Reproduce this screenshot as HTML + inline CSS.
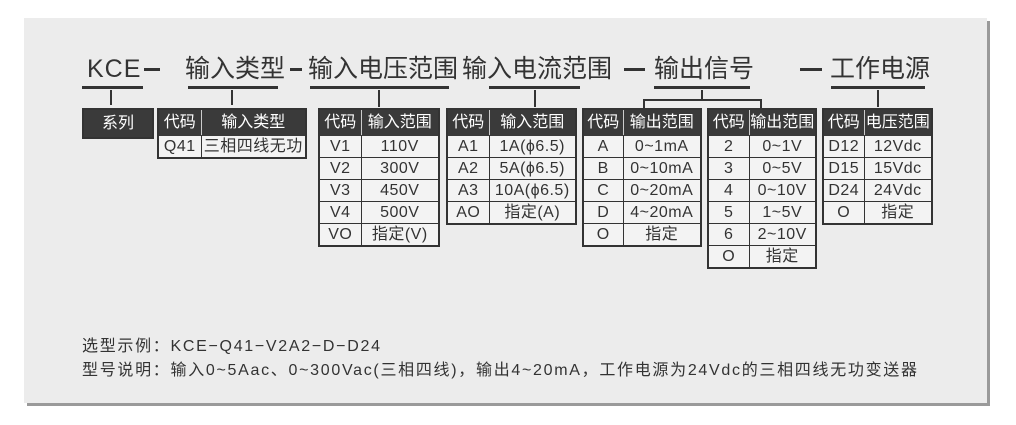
<!DOCTYPE html>
<html><head><meta charset="utf-8"><style>
body{margin:0;width:1016px;height:425px;background:#fff;position:relative;overflow:hidden;font-family:"Liberation Sans","Noto Sans CJK SC",sans-serif;color:#333}
.card{position:absolute;left:24px;top:18px;width:963px;height:385px;background:#ececec;box-shadow:3px 3px 0 #9a9a9a}
.a{position:absolute}
.h{position:absolute;font-size:25px;line-height:28px;top:55px;color:#333;white-space:nowrap}
.ul{position:absolute;height:3px;background:#333;top:86px}
.v{position:absolute;width:2px;background:#333}
.d{position:absolute;height:3px;background:#333;top:68px}
table{position:absolute;border-collapse:collapse;border:2px solid #333;background:#f3f3f3;font-size:16px;table-layout:fixed}
td{border:1.5px solid #333;padding:0;text-align:center;height:21px;line-height:21px;white-space:nowrap;overflow:hidden;letter-spacing:0.5px}
tr.hd td{background:#3a3a3a;color:#fff;height:25px;border-color:#3a3a3a;border-right:1.5px solid #ccc;letter-spacing:0}
tr.hd td:last-child{border-right-color:#3a3a3a}
.bt{position:absolute;left:82px;font-size:16px;letter-spacing:1.7px;white-space:nowrap}
</style></head><body>
<div class="card"></div>
<div class="h" style="left:87px;letter-spacing:1px">KCE</div>
<div class="d" style="left:144px;width:16px"></div>
<div class="h" style="left:185px">输入类型</div>
<div class="d" style="left:290px;width:12px"></div>
<div class="h" style="left:308px">输入电压范围</div>
<div class="h" style="left:462px">输入电流范围</div>
<div class="d" style="left:624px;width:21px"></div>
<div class="h" style="left:654px">输出信号</div>
<div class="d" style="left:800px;width:22px"></div>
<div class="h" style="left:830px">工作电源</div>
<div class="ul" style="left:82px;width:61px"></div>
<div class="ul" style="left:188px;width:90px"></div>
<div class="ul" style="left:310px;width:139px"></div>
<div class="ul" style="left:489px;width:91px"></div>
<div class="ul" style="left:654px;width:96px"></div>
<div class="ul" style="left:831px;width:94px"></div>
<div class="v" style="left:110px;top:90px;height:15px"></div>
<div class="v" style="left:231px;top:90px;height:15px"></div>
<div class="v" style="left:378px;top:90px;height:17px"></div>
<div class="v" style="left:534px;top:90px;height:17px"></div>
<div class="v" style="left:701px;top:90px;height:10px"></div>
<div class="a" style="left:643px;top:99px;width:119px;height:2px;background:#333"></div>
<div class="v" style="left:643px;top:99px;height:9px"></div>
<div class="v" style="left:760px;top:99px;height:9px"></div>
<div class="v" style="left:877px;top:90px;height:17px"></div>
<div class="a" style="left:82px;top:108px;width:68px;height:27px;background:#3a3a3a;border:2px solid #333;color:#fff;font-size:16px;line-height:27px;text-align:center">系列</div>
<table style="left:157px;top:108px;width:150px"><col style="width:43px"><col>
<tr class="hd"><td>代码</td><td>输入类型</td></tr>
<tr><td>Q41</td><td>三相四线无功</td></tr></table>
<table style="left:318px;top:108px;width:122px"><col style="width:42px"><col>
<tr class="hd"><td>代码</td><td>输入范围</td></tr>
<tr><td>V1</td><td>110V</td></tr><tr><td>V2</td><td>300V</td></tr><tr><td>V3</td><td>450V</td></tr><tr><td>V4</td><td>500V</td></tr><tr><td>VO</td><td>指定(V)</td></tr></table>
<table style="left:446px;top:108px;width:131px"><col style="width:42px"><col>
<tr class="hd"><td>代码</td><td>输入范围</td></tr>
<tr><td>A1</td><td>1A(ϕ6.5)</td></tr><tr><td>A2</td><td>5A(ϕ6.5)</td></tr><tr><td>A3</td><td>10A(ϕ6.5)</td></tr><tr><td>AO</td><td>指定(A)</td></tr></table>
<table style="left:582px;top:108px;width:120px"><col style="width:40px"><col>
<tr class="hd"><td>代码</td><td>输出范围</td></tr>
<tr><td>A</td><td>0~1mA</td></tr><tr><td>B</td><td>0~10mA</td></tr><tr><td>C</td><td>0~20mA</td></tr><tr><td>D</td><td>4~20mA</td></tr><tr><td>O</td><td>指定</td></tr></table>
<table style="left:707px;top:108px;width:110px"><col style="width:41px"><col>
<tr class="hd"><td>代码</td><td>输出范围</td></tr>
<tr><td>2</td><td>0~1V</td></tr><tr><td>3</td><td>0~5V</td></tr><tr><td>4</td><td>0~10V</td></tr><tr><td>5</td><td>1~5V</td></tr><tr><td>6</td><td>2~10V</td></tr><tr><td>O</td><td>指定</td></tr></table>
<table style="left:822px;top:108px;width:111px"><col style="width:41px"><col>
<tr class="hd"><td>代码</td><td>电压范围</td></tr>
<tr><td>D12</td><td>12Vdc</td></tr><tr><td>D15</td><td>15Vdc</td></tr><tr><td>D24</td><td>24Vdc</td></tr><tr><td>O</td><td>指定</td></tr></table>
<div class="bt" style="top:332px">选型示例：KCE−Q41−V2A2−D−D24</div>
<div class="bt" style="top:356px">型号说明：输入0~5Aac、0~300Vac(三相四线)，输出4~20mA，工作电源为24Vdc的三相四线无功变送器</div>
</body></html>
